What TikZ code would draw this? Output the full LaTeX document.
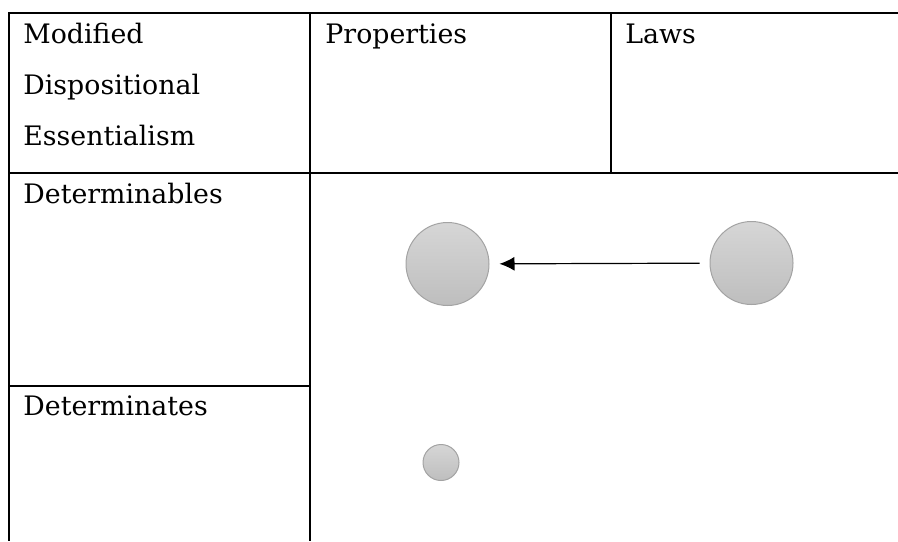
\documentclass[tikz,border=0pt]{standalone}
\usepackage{amsmath,amssymb}
\usepackage{fontspec}
\setmainfont{DejaVu Serif}
\usepackage{tikz}
\usetikzlibrary{arrows.meta}

\definecolor{ballTop}{HTML}{D6D6D6}
\definecolor{ballBot}{HTML}{BEBEBE}
\definecolor{ballRim}{HTML}{A3A3A3}

\tikzset{
  grid line/.style={line width=1.4pt, black},
  cell/.style={anchor=base west, inner sep=0pt, align=left,
    font=\fontsize{13.4pt}{25.5pt}\selectfont},
  ball/.style={shape=circle, draw=ballRim, line width=0.5pt,
    top color=ballTop, bottom color=ballBot, inner sep=0pt}
}

\begin{document}
\begin{tikzpicture}[x=0.5pt,y=-0.5pt]
			\useasboundingbox (0,0) rectangle (898,541);

			% table
			\draw[grid line] (898,13) -- (9,13) -- (9,541);
			\draw[grid line] (9,173) -- (898,173);
			\draw[grid line] (310,13) -- (310,541);
			\draw[grid line] (611,13) -- (611,173);
			\draw[grid line] (9,386) -- (310,386);

			% base of a multi-line node is its last line
			\node[cell] (MDE) at (23,145) {Modified\\Dispositional\\Essentialism};
			\node[cell] (P) at (325,43) {Properties};
			\node[cell] (L) at (625,43) {Laws};
			\node[cell] (Dbl) at (23,203) {Determinables};
			\node[cell] (Dte) at (23,415) {Determinates};

			% circles
			\node[ball, minimum size=41.5pt] (A) at (447.5,264) {};
			\node[ball, minimum size=41.5pt] (B) at (751.5,263) {};
			\node[ball, minimum size=18pt] (C) at (441,462.5) {};

			\path [-{Latex[length=7.5pt,width=7pt]}, line width=0.6pt, black,
			  shorten <=5pt, shorten >=5pt] (B) edge (A);
			%\path [-, thick, black] (A) edge (C);
			\end{tikzpicture}
\end{document}
